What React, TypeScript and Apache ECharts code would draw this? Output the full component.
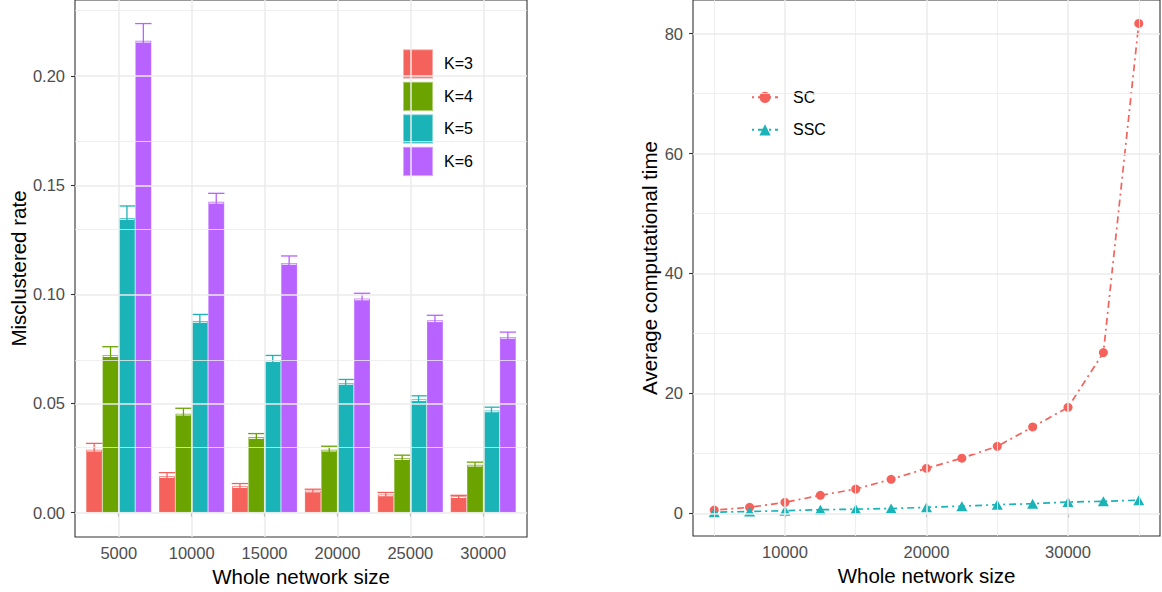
import React, { useEffect, useRef } from "react";
import * as echarts from "echarts";

// ---------- Left panel data ----------
const networkSizes = [5000, 10000, 15000, 20000, 25000, 30000];
const kLabels = ["K=3", "K=4", "K=5", "K=6"];
const rateK3 = [0.0289, 0.0168, 0.0122, 0.0102, 0.0084, 0.0076];
const rateK4 = [0.0722, 0.0454, 0.0347, 0.0289, 0.025, 0.022];
const rateK5 = [0.1351, 0.0879, 0.0699, 0.0595, 0.052, 0.0469];
const rateK6 = [0.2163, 0.1425, 0.1145, 0.0982, 0.0882, 0.0806];
const errK3 = [0.0028, 0.0015, 0.0011, 0.0005, 0.0008, 0.0003];
const errK4 = [0.0038, 0.0024, 0.0015, 0.0015, 0.0013, 0.0011];
const errK5 = [0.0054, 0.0029, 0.0021, 0.0015, 0.0015, 0.0014];
const errK6 = [0.0078, 0.0038, 0.0031, 0.0023, 0.0022, 0.0021];
const leftYTicks = [0, 0.05, 0.1, 0.15, 0.2];
const leftYMinor = [0.025, 0.075, 0.125, 0.175, 0.225];

// ---------- Right panel data ----------
const timeSizes = [5000, 7500, 10000, 12500, 15000, 17500, 20000, 22500, 25000, 27500, 30000, 32500, 35000];
const timeSC = [0.55, 1.0, 1.83, 3.0, 4.05, 5.67, 7.5, 9.2, 11.17, 14.4, 17.67, 26.8, 81.7];
const timeSSC = [0.2, 0.3, 0.45, 0.6, 0.7, 0.8, 1.0, 1.2, 1.45, 1.6, 1.9, 2.0, 2.2];
const rightXTicks = [10000, 20000, 30000];
const rightXMinor = [5000, 15000, 25000, 35000];
const rightYTicks = [0, 20, 40, 60, 80];
const rightYMinor = [10, 30, 50, 70];

const kColors = ["#F5625C", "#6BA300", "#1AB3B7", "#B862FF"];
const lineColors = ["#F5625C", "#1AB3B7"];
const FONT = "'Liberation Sans', Arial, Helvetica, sans-serif";
const GRID_COLOR = "#EBEBEB";
const TICK_COLOR = "#4D4D4D";

export default function App() {
  const ref = useRef<HTMLDivElement>(null);

  useEffect(() => {
    if (!ref.current) return;
    const chart = echarts.init(ref.current, undefined, { renderer: "svg" });

    const rates = [rateK3, rateK4, rateK5, rateK6];
    const errs = [errK3, errK4, errK5, errK6];

    const gridLines = (axisKey: "xAxis" | "yAxis", major: number[], minor: number[]) => [
      ...major.map((v) => ({ [axisKey]: v, lineStyle: { color: GRID_COLOR, width: 1.5, type: "solid" } })),
      ...minor.map((v) => ({ [axisKey]: v, lineStyle: { color: GRID_COLOR, width: 0.8, type: "solid" } })),
    ];

    const gridSeries = (idx: number, xMaj: number[], xMin: number[], yMaj: number[], yMin: number[]) => ({
      type: "scatter",
      name: "__grid" + idx,
      xAxisIndex: idx,
      yAxisIndex: idx,
      data: [],
      silent: true,
      z: 1,
      markLine: {
        silent: true,
        symbol: ["none", "none"],
        label: { show: false },
        animation: false,
        data: [...gridLines("xAxis", xMaj, xMin), ...gridLines("yAxis", yMaj, yMin)],
      },
    });

    const barSeries = kLabels.map((name, k) => ({
      type: "bar",
      name,
      xAxisIndex: 0,
      yAxisIndex: 0,
      barWidth: "22.5%",
      barGap: "0%",
      z: 2,
      itemStyle: { color: kColors[k], borderColor: "rgba(255,255,255,0.45)", borderWidth: 0.5 },
      data: networkSizes.map((s, i) => [s, rates[k][i]]),
    }));

    const errData: number[][] = [];
    kLabels.forEach((_, k) => {
      networkSizes.forEach((s, i) => errData.push([s, rates[k][i], errs[k][i], k]));
    });

    const errorSeries = {
      type: "custom",
      name: "__err",
      xAxisIndex: 0,
      yAxisIndex: 0,
      z: 3,
      silent: true,
      data: errData,
      renderItem: (params: any, api: any) => {
        const x = api.value(0);
        const v = api.value(1);
        const e = api.value(2);
        const k = api.value(3);
        const band = api.size([5000, 0])[0];
        const bw = (band * 0.9) / 4;
        const base = api.coord([x, v]);
        const cx = base[0] + (k - 1.5) * bw;
        const yv = base[1];
        const yt = api.coord([x, v + e])[1];
        const color = kColors[k];
        return {
          type: "group",
          children: [
            {
              type: "line",
              shape: { x1: cx - bw / 2 + 1, y1: yv + 1.5, x2: cx + bw / 2 - 1, y2: yv + 1.5 },
              style: { stroke: "#ffffff", lineWidth: 1 },
            },
            {
              type: "line",
              shape: { x1: cx, y1: yv + 2.5, x2: cx, y2: yt },
              style: { stroke: color, lineWidth: 1.3 },
            },
            {
              type: "line",
              shape: { x1: cx - bw / 2, y1: yt, x2: cx + bw / 2, y2: yt },
              style: { stroke: color, lineWidth: 1.3 },
            },
          ],
        };
      },
    };

    const lineSeries = [
      {
        type: "line",
        name: "SC",
        xAxisIndex: 1,
        yAxisIndex: 1,
        z: 3,
        symbol: "circle",
        symbolSize: 9,
        itemStyle: { color: lineColors[0] },
        lineStyle: { color: lineColors[0], width: 1.7, type: [2, 4, 7, 4] },
        data: timeSizes.map((s, i) => [s, timeSC[i]]),
      },
      {
        type: "line",
        name: "SSC",
        xAxisIndex: 1,
        yAxisIndex: 1,
        z: 3,
        symbol: "triangle",
        symbolSize: [11, 10],
        itemStyle: { color: lineColors[1] },
        lineStyle: { color: lineColors[1], width: 1.7, type: [2, 4, 7, 4] },
        data: timeSizes.map((s, i) => [s, timeSSC[i]]),
      },
    ];

    const labelStyle = { color: TICK_COLOR, fontSize: 16.5, fontFamily: FONT };
    const nameStyle = { color: "#000000", fontSize: 20.5, fontFamily: FONT };
    const tickStyle = { show: true, length: 4, lineStyle: { color: "#333333", width: 1.1 } };

    chart.setOption({
      animation: false,
      backgroundColor: "#ffffff",
      textStyle: { fontFamily: FONT },
      grid: [
        { left: 75, top: 0, width: 452, height: 537, show: true, borderColor: "#333333", borderWidth: 1.1, backgroundColor: "#ffffff", containLabel: false },
        { left: 693, top: 0, width: 467, height: 536, show: true, borderColor: "#333333", borderWidth: 1.1, backgroundColor: "#ffffff", containLabel: false },
      ],
      xAxis: [
        {
          type: "value",
          gridIndex: 0,
          min: 2000,
          max: 33000,
          name: "Whole network size",
          nameLocation: "middle",
          nameGap: 24,
          nameTextStyle: nameStyle,
          axisLine: { show: false },
          axisTick: { ...tickStyle, customValues: networkSizes },
          axisLabel: { ...labelStyle, margin: 7, customValues: networkSizes, formatter: (v: number) => String(v) },
          splitLine: { show: false },
        },
        {
          type: "value",
          gridIndex: 1,
          min: 3500,
          max: 36500,
          name: "Whole network size",
          nameLocation: "middle",
          nameGap: 24,
          nameTextStyle: nameStyle,
          axisLine: { show: false },
          axisTick: { ...tickStyle, customValues: rightXTicks },
          axisLabel: { ...labelStyle, margin: 7, customValues: rightXTicks, formatter: (v: number) => String(v) },
          splitLine: { show: false },
        },
      ],
      yAxis: [
        {
          type: "value",
          gridIndex: 0,
          min: -0.0112,
          max: 0.2349,
          name: "Misclustered rate",
          nameLocation: "middle",
          nameGap: 46,
          nameTextStyle: nameStyle,
          axisLine: { show: false },
          axisTick: { ...tickStyle, customValues: leftYTicks },
          axisLabel: { ...labelStyle, margin: 10, customValues: leftYTicks, formatter: (v: number) => v.toFixed(2) },
          splitLine: { show: false },
        },
        {
          type: "value",
          gridIndex: 1,
          min: -3.78,
          max: 85.6,
          name: "Average computational time",
          nameLocation: "middle",
          nameGap: 33,
          nameTextStyle: nameStyle,
          axisLine: { show: false },
          axisTick: { ...tickStyle, customValues: rightYTicks },
          axisLabel: { ...labelStyle, margin: 10, customValues: rightYTicks, formatter: (v: number) => String(v) },
          splitLine: { show: false },
        },
      ],
      legend: [
        {
          data: kLabels,
          orient: "vertical",
          left: 391,
          top: 26.7,
          icon: "rect",
          itemWidth: 30,
          itemHeight: 29.3,
          itemGap: 1.2,
          backgroundColor: "#ffffff",
          padding: [21.6, 11, 10, 11],
          selectedMode: false,
          textStyle: { fontSize: 16, color: "#000000", fontFamily: FONT, padding: [0, 0, 0, 6] },
        },
        {
          data: ["SC", "SSC"],
          orient: "vertical",
          left: 737.7,
          top: 58.3,
          itemWidth: 26,
          itemHeight: 14,
          itemGap: 16.5,
          backgroundColor: "#ffffff",
          padding: [31, 11, 19.6, 13.3],
          selectedMode: false,
          textStyle: { fontSize: 16, color: "#000000", fontFamily: FONT, padding: [0, 0, 0, 10] },
        },
      ],
      series: [
        gridSeries(0, networkSizes, [], leftYTicks, leftYMinor),
        gridSeries(1, rightXTicks, rightXMinor, rightYTicks, rightYMinor),
        ...barSeries,
        errorSeries,
        ...lineSeries,
      ],
    });

    return () => chart.dispose();
  }, []);

  return (
    <div
      ref={ref}
      style={{ position: "fixed", left: 0, top: 0, width: 1162, height: 592, background: "#ffffff" }}
    />
  );
}
